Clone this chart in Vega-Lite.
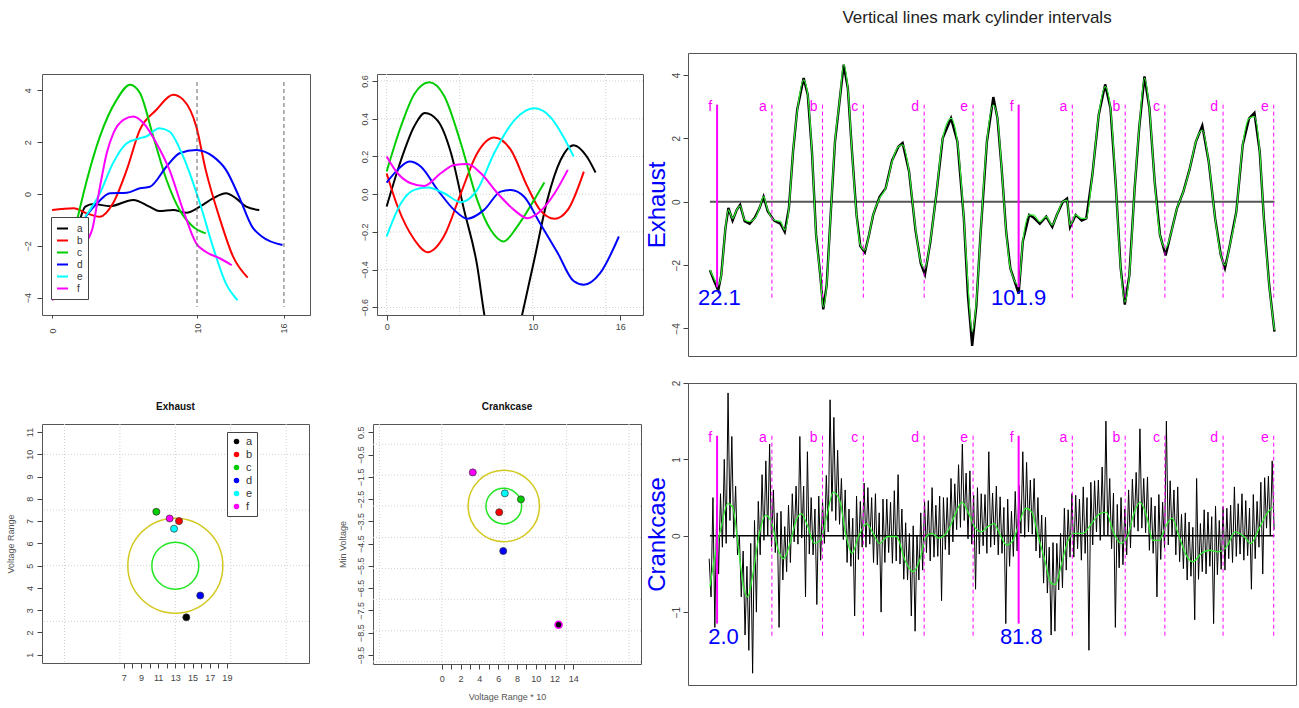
{
"$schema": "https://vega.github.io/schema/vega-lite/v6.json",
"background": "white",
"padding": {"left": 5, "top": 8, "right": 2, "bottom": 2},
"config": {
  "font": "Liberation Sans",
  "view": {"stroke": "#555", "strokeWidth": 1},
  "axis": {"domain": false, "grid": false, "labelColor": "#444", "tickColor": "#444", "labelFontSize": 9, "tickSize": 5, "labelPadding": 2, "titleColor": "#444", "titleFontWeight": "normal", "labelFont": "Liberation Sans", "titleFont": "Liberation Sans", "labelOverlap": false, "labelSeparation": 0},
  "title": {"font": "Liberation Sans"},
  "legend": {"labelFont": "Liberation Sans"}
},
"datasets": {
  "c1": [
    {"k":"a","x":1.95,"y":-0.94},{"k":"a","x":2.29,"y":-0.49},{"k":"a","x":2.86,"y":-0.39},{"k":"a","x":4.0,"y":-0.47},{"k":"a","x":5.6,"y":-0.23},{"k":"a","x":6.75,"y":-0.5},{"k":"a","x":7.4,"y":-0.66},{"k":"a","x":8.35,"y":-0.62},{"k":"a","x":9.27,"y":-0.72},{"k":"a","x":10.2,"y":-0.49},{"k":"a","x":11.1,"y":-0.17},{"k":"a","x":12.0,"y":0.03},{"k":"a","x":12.7,"y":-0.17},{"k":"a","x":13.4,"y":-0.49},{"k":"a","x":14.3,"y":-0.62},
    {"k":"b","x":0,"y":-0.62},{"k":"b","x":1.49,"y":-0.55},{"k":"b","x":2.4,"y":-0.75},{"k":"b","x":3.3,"y":-0.88},{"k":"b","x":4.2,"y":-0.36},{"k":"b","x":5.15,"y":0.93},{"k":"b","x":6.06,"y":2.48},{"k":"b","x":7.2,"y":3.25},{"k":"b","x":8.35,"y":3.83},{"k":"b","x":9.04,"y":3.64},{"k":"b","x":9.95,"y":2.6},{"k":"b","x":10.6,"y":0.93},{"k":"b","x":11.6,"y":-1.0},{"k":"b","x":12.5,"y":-2.43},{"k":"b","x":13.5,"y":-3.23},
    {"k":"c","x":1.6,"y":-1.3},{"k":"c","x":2.4,"y":0.54},{"k":"c","x":3.3,"y":2.22},{"k":"c","x":4.46,"y":3.64},{"k":"c","x":5.38,"y":4.22},{"k":"c","x":6.06,"y":3.9},{"k":"c","x":6.98,"y":2.22},{"k":"c","x":7.9,"y":0.54},{"k":"c","x":8.8,"y":-0.62},{"k":"c","x":9.73,"y":-1.26},{"k":"c","x":10.6,"y":-1.52},
    {"k":"d","x":2.29,"y":-0.88},{"k":"d","x":3.1,"y":-0.36},{"k":"d","x":4.0,"y":0.03},{"k":"d","x":5.15,"y":0.05},{"k":"d","x":6.06,"y":0.22},{"k":"d","x":6.75,"y":0.28},{"k":"d","x":7.9,"y":1.06},{"k":"d","x":8.8,"y":1.57},{"k":"d","x":9.95,"y":1.7},{"k":"d","x":11.1,"y":1.45},{"k":"d","x":12.0,"y":0.93},{"k":"d","x":12.9,"y":-0.1},{"k":"d","x":13.8,"y":-1.26},{"k":"d","x":14.5,"y":-1.65},{"k":"d","x":15.9,"y":-1.97},
    {"k":"e","x":2.29,"y":-0.88},{"k":"e","x":3.3,"y":0.03},{"k":"e","x":4.2,"y":1.19},{"k":"e","x":5.15,"y":1.96},{"k":"e","x":6.06,"y":2.15},{"k":"e","x":6.5,"y":2.22},{"k":"e","x":7.4,"y":2.54},{"k":"e","x":8.1,"y":2.41},{"k":"e","x":9.04,"y":1.45},{"k":"e","x":10.2,"y":-0.36},{"k":"e","x":11.1,"y":-2.04},{"k":"e","x":12.0,"y":-3.46},{"k":"e","x":12.8,"y":-4.1},
    {"k":"f","x":0,"y":-4.1},{"k":"f","x":0.57,"y":-3.7},{"k":"f","x":1.26,"y":-2.94},{"k":"f","x":2.0,"y":-2.1},{"k":"f","x":2.75,"y":-1.4},{"k":"f","x":3.3,"y":0.28},{"k":"f","x":3.78,"y":1.6},{"k":"f","x":4.23,"y":2.35},{"k":"f","x":4.92,"y":2.86},{"k":"f","x":5.6,"y":2.99},{"k":"f","x":6.3,"y":2.74},{"k":"f","x":7.2,"y":1.96},{"k":"f","x":8.1,"y":0.93},{"k":"f","x":9.04,"y":-0.62},{"k":"f","x":9.95,"y":-1.91},{"k":"f","x":10.6,"y":-2.23},{"k":"f","x":11.6,"y":-2.49},{"k":"f","x":12.4,"y":-2.75}
  ],
  "c2": [
    {"k":"a","x":0,"y":-0.065},{"k":"a","x":0.98,"y":0.18},{"k":"a","x":1.89,"y":0.36},{"k":"a","x":2.62,"y":0.43},{"k":"a","x":3.49,"y":0.39},{"k":"a","x":4.4,"y":0.22},{"k":"a","x":5.3,"y":-0.083},{"k":"a","x":6.2,"y":-0.38},{"k":"a","x":6.67,"y":-0.63},{"k":"a","x":7.3,"y":-0.88},{"k":"a","x":8.0,"y":-0.95},{"k":"a","x":8.6,"y":-0.88},{"k":"a","x":9.3,"y":-0.63},{"k":"a","x":10.1,"y":-0.35},{"k":"a","x":11.0,"y":-0.03},{"k":"a","x":11.9,"y":0.18},{"k":"a","x":12.8,"y":0.26},{"k":"a","x":13.7,"y":0.2},{"k":"a","x":14.3,"y":0.115},
    {"k":"b","x":0,"y":0.11},{"k":"b","x":0.75,"y":-0.065},{"k":"b","x":1.89,"y":-0.24},{"k":"b","x":2.8,"y":-0.307},{"k":"b","x":3.94,"y":-0.22},{"k":"b","x":5.08,"y":0.005},{"k":"b","x":6.2,"y":0.217},{"k":"b","x":7.36,"y":0.3},{"k":"b","x":8.5,"y":0.235},{"k":"b","x":9.64,"y":0.04},{"k":"b","x":10.5,"y":-0.083},{"k":"b","x":11.5,"y":-0.13},{"k":"b","x":12.4,"y":-0.083},{"k":"b","x":13.5,"y":0.12},
    {"k":"c","x":0,"y":0.12},{"k":"c","x":0.98,"y":0.36},{"k":"c","x":1.89,"y":0.53},{"k":"c","x":2.92,"y":0.593},{"k":"c","x":3.94,"y":0.52},{"k":"c","x":5.08,"y":0.27},{"k":"c","x":6.2,"y":-0.03},{"k":"c","x":7.13,"y":-0.19},{"k":"c","x":8.0,"y":-0.25},{"k":"c","x":8.95,"y":-0.17},{"k":"c","x":10.1,"y":-0.03},{"k":"c","x":10.8,"y":0.062},
    {"k":"d","x":0,"y":0.062},{"k":"d","x":0.75,"y":0.129},{"k":"d","x":1.55,"y":0.173},{"k":"d","x":2.35,"y":0.146},{"k":"d","x":3.49,"y":0.023},{"k":"d","x":4.62,"y":-0.083},{"k":"d","x":5.53,"y":-0.13},{"k":"d","x":6.67,"y":-0.083},{"k":"d","x":7.8,"y":0.014},{"k":"d","x":8.5,"y":0.023},{"k":"d","x":9.4,"y":-0.012},{"k":"d","x":10.5,"y":-0.154},{"k":"d","x":11.7,"y":-0.31},{"k":"d","x":12.8,"y":-0.46},{"k":"d","x":13.5,"y":-0.48},{"k":"d","x":14.6,"y":-0.42},{"k":"d","x":15.9,"y":-0.224},
    {"k":"e","x":0,"y":-0.224},{"k":"e","x":0.98,"y":-0.048},{"k":"e","x":1.89,"y":0.023},{"k":"e","x":2.8,"y":0.035},{"k":"e","x":3.94,"y":0.005},{"k":"e","x":5.08,"y":-0.042},{"k":"e","x":6.2,"y":0.023},{"k":"e","x":7.36,"y":0.217},{"k":"e","x":8.72,"y":0.39},{"k":"e","x":10.1,"y":0.455},{"k":"e","x":11.2,"y":0.41},{"k":"e","x":12.1,"y":0.305},{"k":"e","x":12.8,"y":0.2},
    {"k":"f","x":0,"y":0.2},{"k":"f","x":0.75,"y":0.111},{"k":"f","x":1.66,"y":0.058},{"k":"f","x":2.57,"y":0.044},{"k":"f","x":3.7,"y":0.111},{"k":"f","x":4.62,"y":0.155},{"k":"f","x":5.53,"y":0.16},{"k":"f","x":6.45,"y":0.111},{"k":"f","x":7.59,"y":0.005},{"k":"f","x":8.72,"y":-0.083},{"k":"f","x":9.64,"y":-0.127},{"k":"f","x":10.5,"y":-0.092},{"k":"f","x":11.5,"y":0.005},{"k":"f","x":12.4,"y":0.129}
  ],
  "ex": [
    {"u":20.2,"s":-2.16,"r":-2.16},{"u":21.3,"s":-2.42,"r":-2.5},{"u":22.4,"s":-2.63,"r":-2.8},{"u":23.2,"s":-2.32,"r":-2.32},{"u":24.3,"s":-0.84,"r":-0.84},{"u":25.1,"s":-0.26,"r":-0.2},{"u":26.2,"s":-0.53,"r":-0.6},{"u":27.3,"s":-0.26,"r":-0.26},{"u":28.2,"s":-0.13,"r":-0.1},{"u":29.4,"s":-0.58,"r":-0.62},{"u":30.7,"s":-0.63,"r":-0.7},{"u":32.1,"s":-0.53,"r":-0.5},{"u":33.3,"s":-0.21,"r":-0.21},{"u":34.4,"s":0.16,"r":0.16},{"u":35.5,"s":-0.26,"r":-0.3},{"u":37.2,"s":-0.58,"r":-0.6},{"u":38.9,"s":-0.63,"r":-0.7},{"u":40.0,"s":-0.89,"r":-0.95},{"u":41.1,"s":-0.21,"r":-0.21},{"u":42.2,"s":1.58,"r":1.58},{"u":43.3,"s":2.84,"r":2.9},{"u":45.0,"s":3.84,"r":3.9},{"u":46.1,"s":3.37,"r":3.37},{"u":47.2,"s":1.58,"r":1.58},{"u":48.3,"s":-1.05,"r":-1.05},{"u":49.4,"s":-2.32,"r":-2.32},{"u":50.2,"s":-3.32,"r":-3.4},{"u":51.1,"s":-2.63,"r":-2.63},{"u":52.2,"s":-0.32,"r":-0.32},{"u":53.3,"s":1.89,"r":1.89},{"u":54.5,"s":3.16,"r":3.16},{"u":55.6,"s":4.32,"r":4.32},{"u":56.7,"s":3.58,"r":3.58},{"u":57.8,"s":1.58,"r":1.58},{"u":59.0,"s":-0.42,"r":-0.42},{"u":60.0,"s":-1.37,"r":-1.4},{"u":61.2,"s":-1.53,"r":-1.6},{"u":62.3,"s":-1.05,"r":-1.05},{"u":63.4,"s":-0.42,"r":-0.42},{"u":65.1,"s":0.105,"r":0.15},{"u":66.7,"s":0.42,"r":0.42},{"u":68.4,"s":1.26,"r":1.3},{"u":70.1,"s":1.74,"r":1.74},{"u":71.2,"s":1.79,"r":1.85},{"u":72.9,"s":0.95,"r":0.95},{"u":74.6,"s":-0.84,"r":-0.9},{"u":76.0,"s":-1.89,"r":-1.95},{"u":77.1,"s":-2.1,"r":-2.3},{"u":78.5,"s":-1.26,"r":-1.3},{"u":80.1,"s":0.21,"r":0.21},{"u":81.8,"s":2.0,"r":2.0},{"u":84.0,"s":2.63,"r":2.63},{"u":85.7,"s":1.89,"r":1.89},{"u":87.4,"s":-0.53,"r":-0.53},{"u":88.5,"s":-2.63,"r":-3.0},{"u":89.6,"s":-4.1,"r":-4.55},{"u":90.7,"s":-3.16,"r":-3.3},{"u":91.8,"s":-1.05,"r":-1.05},{"u":93.5,"s":1.89,"r":1.89},{"u":95.2,"s":3.05,"r":3.3},{"u":96.3,"s":2.63,"r":2.63},{"u":97.4,"s":1.05,"r":1.05},{"u":98.6,"s":-0.95,"r":-0.95},{"u":99.7,"s":-2.1,"r":-2.1},{"u":101.9,"s":-2.63,"r":-2.9},{"u":103.0,"s":-1.26,"r":-1.26},{"u":104.7,"s":-0.42,"r":-0.42},{"u":105.8,"s":-0.42,"r":-0.5},{"u":107.5,"s":-0.63,"r":-0.7},{"u":109.2,"s":-0.47,"r":-0.47},{"u":110.8,"s":-0.74,"r":-0.8},{"u":112.0,"s":-0.42,"r":-0.42},{"u":113.6,"s":0.0,"r":0.0},{"u":114.7,"s":0.05,"r":0.1},{"u":115.5,"s":-0.74,"r":-0.8},{"u":117.0,"s":-0.42,"r":-0.42},{"u":118.6,"s":-0.53,"r":-0.6},{"u":119.8,"s":-0.53,"r":-0.53},{"u":121.4,"s":0.84,"r":0.84},{"u":123.1,"s":2.74,"r":2.74},{"u":124.8,"s":3.63,"r":3.7},{"u":126.2,"s":2.95,"r":2.95},{"u":127.6,"s":0.53,"r":0.53},{"u":128.9,"s":-2.1,"r":-2.1},{"u":130.0,"s":-3.16,"r":-3.25},{"u":131.2,"s":-2.32,"r":-2.32},{"u":132.6,"s":0.42,"r":0.42},{"u":133.8,"s":2.32,"r":2.32},{"u":135.2,"s":3.89,"r":3.95},{"u":136.5,"s":2.95,"r":2.95},{"u":137.9,"s":0.63,"r":0.63},{"u":139.3,"s":-1.05,"r":-1.05},{"u":140.8,"s":-1.47,"r":-1.7},{"u":142.1,"s":-1.05,"r":-1.05},{"u":143.8,"s":-0.21,"r":-0.21},{"u":145.5,"s":0.32,"r":0.32},{"u":147.2,"s":1.05,"r":1.05},{"u":148.8,"s":1.89,"r":1.89},{"u":150.5,"s":2.26,"r":2.4},{"u":152.2,"s":1.26,"r":1.26},{"u":153.9,"s":-0.53,"r":-0.53},{"u":155.4,"s":-1.68,"r":-1.68},{"u":156.5,"s":-2.0,"r":-2.1},{"u":157.8,"s":-1.37,"r":-1.37},{"u":159.5,"s":-0.32,"r":-0.32},{"u":161.2,"s":1.79,"r":1.79},{"u":162.9,"s":2.63,"r":2.63},{"u":164.3,"s":2.68,"r":2.8},{"u":165.7,"s":1.58,"r":1.58},{"u":166.8,"s":-0.53,"r":-0.53},{"u":168.2,"s":-2.63,"r":-2.63},{"u":169.6,"s":-4.05,"r":-4.1}
  ],
  "ckS": [
    {"u":20.2,"s":-0.67},{"u":21.5,"s":-0.27},{"u":23.2,"s":0.12},{"u":24.9,"s":0.42},{"u":26.2,"s":0.38},{"u":27.7,"s":-0.14},{"u":29.1,"s":-0.67},{"u":30.2,"s":-0.8},{"u":31.6,"s":-0.49},{"u":33.3,"s":0.03},{"u":34.9,"s":0.27},{"u":36.6,"s":0.16},{"u":38.3,"s":-0.19},{"u":39.7,"s":-0.3},{"u":41.4,"s":-0.1},{"u":43.0,"s":0.2},{"u":44.4,"s":0.29},{"u":46.1,"s":0.12},{"u":47.8,"s":-0.1},{"u":49.4,"s":-0.06},{"u":51.1,"s":0.25},{"u":52.8,"s":0.57},{"u":54.5,"s":0.47},{"u":56.1,"s":0.03},{"u":57.8,"s":-0.23},{"u":59.5,"s":-0.01},{"u":61.7,"s":0.16},{"u":63.4,"s":0.03},{"u":65.1,"s":-0.1},{"u":67.3,"s":-0.01},{"u":69.6,"s":-0.01},{"u":71.8,"s":-0.32},{"u":74.0,"s":-0.47},{"u":75.7,"s":-0.32},{"u":77.4,"s":-0.01},{"u":79.0,"s":0.03},{"u":80.7,"s":-0.03},{"u":83.0,"s":0.05},{"u":85.2,"s":0.29},{"u":86.9,"s":0.44},{"u":88.5,"s":0.31},{"u":90.2,"s":0.12},{"u":92.0,"s":0.05},{"u":93.7,"s":0.12},{"u":95.4,"s":0.16},{"u":97.0,"s":0.01},{"u":98.7,"s":-0.12},{"u":100.4,"s":-0.06},{"u":102.0,"s":0.16},{"u":103.8,"s":0.36},{"u":105.4,"s":0.31},{"u":107.1,"s":-0.01},{"u":108.8,"s":-0.32},{"u":110.5,"s":-0.62},{"u":111.6,"s":-0.64},{"u":113.3,"s":-0.36},{"u":115.0,"s":-0.06},{"u":116.7,"s":0.03},{"u":118.9,"s":0.03},{"u":121.2,"s":0.16},{"u":123.4,"s":0.29},{"u":125.1,"s":0.31},{"u":126.8,"s":0.07},{"u":129.0,"s":-0.1},{"u":130.7,"s":-0.01},{"u":132.4,"s":0.29},{"u":134.0,"s":0.44},{"u":135.8,"s":0.25},{"u":137.4,"s":-0.06},{"u":139.1,"s":-0.06},{"u":140.8,"s":0.12},{"u":142.5,"s":0.23},{"u":144.1,"s":0.03},{"u":146.4,"s":-0.27},{"u":148.0,"s":-0.34},{"u":150.3,"s":-0.23},{"u":152.5,"s":-0.19},{"u":154.7,"s":-0.21},{"u":157.0,"s":-0.14},{"u":159.2,"s":0.05},{"u":161.5,"s":-0.01},{"u":163.4,"s":-0.1},{"u":165.3,"s":0.07},{"u":167.6,"s":0.29},{"u":169.3,"s":0.38}
  ],
  "ckR": [
    {"u":20.0,"v":-0.3},{"u":20.5,"v":-0.8},{"u":21.0,"v":0.5},{"u":21.5,"v":-1.2},{"u":22.0,"v":0.4},{"u":22.5,"v":-0.5},{"u":23.0,"v":0.55},{"u":23.5,"v":-0.15},{"u":24.0,"v":1.0},{"u":24.5,"v":-0.1},
    {"u":25.0,"v":1.87},{"u":25.5,"v":0.2},{"u":26.0,"v":1.3},{"u":26.5,"v":-0.03},{"u":27.0,"v":0.65},{"u":27.5,"v":-0.25},{"u":28.0,"v":0.0},{"u":28.5,"v":-0.8},{"u":29.0,"v":-0.2},{"u":29.5,"v":-1.3},
    {"u":30.0,"v":-0.4},{"u":30.5,"v":-1.5},{"u":31.0,"v":-0.1},{"u":31.5,"v":-1.8},{"u":32.0,"v":0.2},{"u":32.5,"v":-1.0},{"u":33.0,"v":0.45},{"u":33.5,"v":-0.25},{"u":34.0,"v":0.8},{"u":34.5,"v":-0.06},
    {"u":35.0,"v":0.98},{"u":35.5,"v":0.0},{"u":36.0,"v":1.2},{"u":36.5,"v":-0.14},{"u":37.0,"v":0.6},{"u":37.5,"v":-0.22},{"u":38.0,"v":0.3},{"u":38.5,"v":-1.2},{"u":39.0,"v":0.32},{"u":39.5,"v":-0.58},
    {"u":40.0,"v":0.12},{"u":40.5,"v":-0.47},{"u":41.0,"v":0.4},{"u":41.5,"v":-0.35},{"u":42.0,"v":0.55},{"u":42.5,"v":-0.08},{"u":43.0,"v":0.65},{"u":43.5,"v":-0.11},{"u":44.0,"v":1.3},{"u":44.5,"v":-0.03},
    {"u":45.0,"v":0.65},{"u":45.5,"v":-0.8},{"u":46.0,"v":1.1},{"u":46.5,"v":-0.24},{"u":47.0,"v":0.5},{"u":47.5,"v":-0.25},{"u":48.0,"v":0.35},{"u":48.5,"v":-0.9},{"u":49.0,"v":0.52},{"u":49.5,"v":-0.32},
    {"u":50.0,"v":0.45},{"u":50.5,"v":-0.1},{"u":51.0,"v":0.79},{"u":51.5,"v":0.05},{"u":52.0,"v":1.78},{"u":52.5,"v":0.32},{"u":53.0,"v":1.55},{"u":53.5,"v":0.2},{"u":54.0,"v":1.12},{"u":54.5,"v":0.15},
    {"u":55.0,"v":0.75},{"u":55.5,"v":-0.05},{"u":56.0,"v":0.6},{"u":56.5,"v":-0.35},{"u":57.0,"v":0.35},{"u":57.5,"v":-0.4},{"u":58.0,"v":0.23},{"u":58.5,"v":-1.05},{"u":59.0,"v":0.52},{"u":59.5,"v":-0.31},
    {"u":60.0,"v":0.45},{"u":60.5,"v":-0.15},{"u":61.0,"v":0.69},{"u":61.5,"v":-0.15},{"u":62.0,"v":0.63},{"u":62.5,"v":-0.11},{"u":63.0,"v":0.5},{"u":63.5,"v":-0.35},{"u":64.0,"v":0.55},{"u":64.5,"v":-0.38},
    {"u":65.0,"v":0.3},{"u":65.5,"v":-1.0},{"u":66.0,"v":0.48},{"u":66.5,"v":-0.35},{"u":67.0,"v":0.48},{"u":67.5,"v":-0.22},{"u":68.0,"v":0.44},{"u":68.5,"v":-0.36},{"u":69.0,"v":0.59},{"u":69.5,"v":-0.33},
    {"u":70.0,"v":0.8},{"u":70.5,"v":-0.37},{"u":71.0,"v":0.35},{"u":71.5,"v":-0.57},{"u":72.0,"v":0.17},{"u":72.5,"v":-0.58},{"u":73.0,"v":0.03},{"u":73.5,"v":-1.05},{"u":74.0,"v":0.13},{"u":74.5,"v":-1.25},
    {"u":75.0,"v":0.0},{"u":75.5,"v":-0.58},{"u":76.0,"v":0.3},{"u":76.5,"v":-0.45},{"u":77.0,"v":0.45},{"u":77.5,"v":-0.22},{"u":78.0,"v":0.46},{"u":78.5,"v":-0.33},{"u":79.0,"v":0.63},{"u":79.5,"v":-0.28},
    {"u":80.0,"v":0.4},{"u":80.5,"v":-0.27},{"u":81.0,"v":0.52},{"u":81.5,"v":-0.85},{"u":82.0,"v":0.5},{"u":82.5,"v":-0.18},{"u":83.0,"v":0.5},{"u":83.5,"v":-0.25},{"u":84.0,"v":0.75},{"u":84.5,"v":-0.08},
    {"u":85.0,"v":0.68},{"u":85.5,"v":0.08},{"u":86.0,"v":0.93},{"u":86.5,"v":0.11},{"u":87.0,"v":1.2},{"u":87.5,"v":0.2},{"u":88.0,"v":0.82},{"u":88.5,"v":-0.04},{"u":89.0,"v":0.85},{"u":89.5,"v":-0.11},
    {"u":90.0,"v":0.53},{"u":90.5,"v":-0.7},{"u":91.0,"v":0.63},{"u":91.5,"v":-0.24},{"u":92.0,"v":0.55},{"u":92.5,"v":-0.13},{"u":93.0,"v":0.54},{"u":93.5,"v":-0.23},{"u":94.0,"v":1.1},{"u":94.5,"v":-0.15},
    {"u":95.0,"v":0.56},{"u":95.5,"v":-0.12},{"u":96.0,"v":0.65},{"u":96.5,"v":-0.25},{"u":97.0,"v":0.51},{"u":97.5,"v":-0.23},{"u":98.0,"v":0.37},{"u":98.5,"v":-1.15},{"u":99.0,"v":0.48},{"u":99.5,"v":-0.4},
    {"u":100.0,"v":0.32},{"u":100.5,"v":-0.27},{"u":101.0,"v":0.58},{"u":101.5,"v":-0.2},{"u":102.0,"v":0.66},{"u":102.5,"v":0.03},{"u":103.0,"v":1.1},{"u":103.5,"v":-0.02},{"u":104.0,"v":0.96},{"u":104.5,"v":0.05},
    {"u":105.0,"v":0.73},{"u":105.5,"v":0.02},{"u":106.0,"v":0.75},{"u":106.5,"v":-0.2},{"u":107.0,"v":0.5},{"u":107.5,"v":-0.29},{"u":108.0,"v":0.27},{"u":108.5,"v":-0.62},{"u":109.0,"v":0.24},{"u":109.5,"v":-0.75},
    {"u":110.0,"v":-0.15},{"u":110.5,"v":-1.3},{"u":111.0,"v":-0.09},{"u":111.5,"v":-1.25},{"u":112.0,"v":-0.1},{"u":112.5,"v":-0.71},{"u":113.0,"v":0.03},{"u":113.5,"v":-0.68},{"u":114.0,"v":0.36},{"u":114.5,"v":-0.45},
    {"u":115.0,"v":0.34},{"u":115.5,"v":-0.28},{"u":116.0,"v":0.55},{"u":116.5,"v":-0.28},{"u":117.0,"v":0.53},{"u":117.5,"v":-0.17},{"u":118.0,"v":0.48},{"u":118.5,"v":-0.32},{"u":119.0,"v":0.64},{"u":119.5,"v":-0.23},
    {"u":120.0,"v":0.5},{"u":120.5,"v":-1.5},{"u":121.0,"v":0.7},{"u":121.5,"v":-0.12},{"u":122.0,"v":0.72},{"u":122.5,"v":0.05},{"u":123.0,"v":0.73},{"u":123.5,"v":-0.06},{"u":124.0,"v":0.9},{"u":124.5,"v":0.0},
    {"u":125.0,"v":1.5},{"u":125.5,"v":0.01},{"u":126.0,"v":0.75},{"u":126.5,"v":-0.17},{"u":127.0,"v":0.56},{"u":127.5,"v":-1.2},{"u":128.0,"v":0.41},{"u":128.5,"v":-0.42},{"u":129.0,"v":0.5},{"u":129.5,"v":-0.38},
    {"u":130.0,"v":0.35},{"u":130.5,"v":-0.25},{"u":131.0,"v":0.6},{"u":131.5,"v":-0.16},{"u":132.0,"v":0.74},{"u":132.5,"v":0.11},{"u":133.0,"v":0.83},{"u":133.5,"v":0.06},{"u":134.0,"v":1.4},{"u":134.5,"v":0.1},
    {"u":135.0,"v":0.75},{"u":135.5,"v":0.04},{"u":136.0,"v":0.77},{"u":136.5,"v":-0.19},{"u":137.0,"v":0.5},{"u":137.5,"v":-0.23},{"u":138.0,"v":0.39},{"u":138.5,"v":-0.8},{"u":139.0,"v":0.54},{"u":139.5,"v":-0.31},
    {"u":140.0,"v":0.44},{"u":140.5,"v":-0.16},{"u":141.0,"v":1.5},{"u":141.5,"v":-0.12},{"u":142.0,"v":0.72},{"u":142.5,"v":-0.01},{"u":143.0,"v":0.6},{"u":143.5,"v":-0.25},{"u":144.0,"v":0.64},{"u":144.5,"v":-0.34},
    {"u":145.0,"v":0.28},{"u":145.5,"v":-0.43},{"u":146.0,"v":0.3},{"u":146.5,"v":-0.58},{"u":147.0,"v":0.18},{"u":147.5,"v":-0.53},{"u":148.0,"v":0.11},{"u":148.5,"v":-1.1},{"u":149.0,"v":0.75},{"u":149.5,"v":-0.57},
    {"u":150.0,"v":0.16},{"u":150.5,"v":-0.47},{"u":151.0,"v":0.34},{"u":151.5,"v":-0.5},{"u":152.0,"v":0.31},{"u":152.5,"v":-0.4},{"u":153.0,"v":0.25},{"u":153.5,"v":-1.15},{"u":154.0,"v":0.39},{"u":154.5,"v":-0.51},
    {"u":155.0,"v":0.2},{"u":155.5,"v":-0.44},{"u":156.0,"v":0.38},{"u":156.5,"v":-0.45},{"u":157.0,"v":0.36},{"u":157.5,"v":-0.3},{"u":158.0,"v":0.4},{"u":158.5,"v":-0.35},{"u":159.0,"v":0.64},{"u":159.5,"v":-0.27},
    {"u":160.0,"v":0.42},{"u":160.5,"v":-0.24},{"u":161.0,"v":0.55},{"u":161.5,"v":-0.32},{"u":162.0,"v":0.46},{"u":162.5,"v":-0.26},{"u":163.0,"v":0.36},{"u":163.5,"v":-0.7},{"u":164.0,"v":0.54},{"u":164.5,"v":-0.3},
    {"u":165.0,"v":0.45},{"u":165.5,"v":-0.15},{"u":166.0,"v":0.7},{"u":166.5,"v":-0.5},{"u":167.0,"v":0.76},{"u":167.5,"v":0.1},{"u":168.0,"v":0.78},{"u":168.5,"v":0.0},{"u":169.0,"v":0.98},{"u":169.5,"v":0.08}
  ],
  "mk": [
    {"u":22.1,"lab":"f"},{"u":36.6,"lab":"a"},{"u":50.0,"lab":"b"},{"u":60.8,"lab":"c"},{"u":76.9,"lab":"d"},{"u":89.85,"lab":"e"},
    {"u":101.9,"lab":"f"},{"u":116.1,"lab":"a"},{"u":130.1,"lab":"b"},{"u":140.6,"lab":"c"},{"u":156.0,"lab":"d"},{"u":169.4,"lab":"e"}
  ],
  "exN": [{"u":22.7,"t":"22.1"},{"u":101.9,"t":"101.9"}],
  "ckN": [{"u":23.8,"t":"2.0"},{"u":102.6,"t":"81.8"}],
  "sc1": [{"k":"a","x":14.28,"y":2.68},{"k":"b","x":13.43,"y":7.0},{"k":"c","x":10.79,"y":7.42},{"k":"d","x":15.9,"y":3.66},{"k":"e","x":12.85,"y":6.66},{"k":"f","x":12.34,"y":7.12}],
  "sc2": [{"k":"a","x":12.43,"y":-8.14},{"k":"b","x":6.11,"y":-3.09},{"k":"c","x":8.42,"y":-2.51},{"k":"d","x":6.54,"y":-4.83},{"k":"e","x":6.71,"y":-2.24},{"k":"f","x":3.3,"y":-1.3}]
},
"spacing": 0,
"resolve": {"scale": {"color": "independent", "fill": "independent"}, "legend": {"color": "independent", "fill": "independent"}},
"hconcat": [
 {
  "spacing": 14,
  "resolve": {"scale": {"color": "independent", "fill": "independent"}, "legend": {"color": "independent", "fill": "independent"}},
  "vconcat": [
   {"width": 10, "height": 1, "view": {"stroke": null}, "data": {"values": [{"z": 0}]}, "mark": {"type": "text", "text": ""}, "encoding": {}},
   {
    "spacing": 67,
    "resolve": {"scale": {"color": "independent", "fill": "independent"}, "legend": {"color": "independent", "fill": "independent"}},
    "vconcat": [
     {
      "spacing": 48,
      "resolve": {"scale": {"color": "independent", "fill": "independent"}, "legend": {"color": "independent", "fill": "independent"}},
      "hconcat": [
       {
        "width": 268, "height": 241,
        "layer": [
         {"data": {"name": "c1"},
          "mark": {"type": "line", "strokeWidth": 2, "interpolate": "monotone"},
          "encoding": {
            "x": {"field": "x", "type": "quantitative", "title": null, "scale": {"domain": [-0.7, 17.8], "nice": false, "zero": false}, "axis": {"values": [0, 10, 16], "labelAngle": -90, "labelAlign": "left", "labelBaseline": "middle", "tickSize": 3, "labelPadding": 15, "labelOverlap": false, "title": null}},
            "y": {"field": "y", "type": "quantitative", "title": null, "scale": {"domain": [-4.67, 4.63], "nice": false, "zero": false}, "axis": {"values": [-4, -2, 0, 2, 4], "labelAngle": -90, "labelAlign": "center", "labelBaseline": "bottom", "labelPadding": 5, "labelOverlap": false, "title": null}},
            "color": {"field": "k", "type": "nominal", "scale": {"domain": ["a","b","c","d","e","f"], "range": ["#000000","#FF0000","#00CD00","#0000FF","#00FFFF","#FF00FF"]},
              "legend": {"title": null, "orient": "none", "legendX": 9, "legendY": 143, "symbolType": "stroke", "symbolSize": 121, "symbolStrokeWidth": 2, "labelFontSize": 10, "labelColor": "#333", "rowPadding": 0, "padding": 5, "strokeColor": "#444", "fillColor": "white", "labelOffset": 8}}
          }},
         {"data": {"values": [{"x": 10}, {"x": 16}]},
          "mark": {"type": "rule", "strokeDash": [4, 3], "color": "#666", "strokeWidth": 1},
          "encoding": {"x": {"field": "x", "type": "quantitative", "title": null}, "y": {"datum": 4.32}, "y2": {"datum": -4.36}}}
        ]
       },
       {
        "width": 266, "height": 241,
        "layer": [
         {"data": {"values": [{"g": 0}, {"g": 5}, {"g": 10}, {"g": 15}]},
          "mark": {"type": "rule", "color": "#d0d0d0", "strokeDash": [1, 2]},
          "encoding": {"x": {"field": "g", "type": "quantitative", "title": null, "scale": {"domain": [-0.66, 17.55], "nice": false, "zero": false}, "axis": {"values": [0, 10, 16], "labelAngle": 0, "labelOverlap": false, "title": null}}}},
         {"data": {"values": [{"h": -0.6}, {"h": -0.4}, {"h": -0.2}, {"h": 0}, {"h": 0.2}, {"h": 0.4}, {"h": 0.6}]},
          "mark": {"type": "rule", "color": "#d0d0d0", "strokeDash": [1, 2]},
          "encoding": {"y": {"field": "h", "type": "quantitative", "title": null, "scale": {"domain": [-0.64, 0.637], "nice": false, "zero": false}, "axis": {"values": [-0.6, -0.4, -0.2, 0, 0.2, 0.4, 0.6], "format": ".1f", "labelAngle": -90, "labelAlign": "center", "labelBaseline": "bottom", "labelPadding": 3, "labelOverlap": false, "title": null}}}},
         {"data": {"name": "c2"},
          "mark": {"type": "line", "strokeWidth": 2, "interpolate": "monotone", "clip": true},
          "encoding": {
            "x": {"field": "x", "type": "quantitative", "title": null},
            "y": {"field": "y", "type": "quantitative", "title": null},
            "color": {"field": "k", "type": "nominal", "scale": {"domain": ["a","b","c","d","e","f"], "range": ["#000000","#FF0000","#00CD00","#0000FF","#00FFFF","#FF00FF"]}, "legend": null}
          }}
        ]
       }
      ]
     },
     {
      "spacing": 27,
      "resolve": {"scale": {"color": "independent", "fill": "independent"}, "legend": {"color": "independent", "fill": "independent"}},
      "hconcat": [
       {
        "width": 267, "height": 239,
        "title": {"text": "Exhaust", "fontSize": 10, "fontWeight": "bold", "offset": 12, "color": "#111"},
        "encoding": {
          "x": {"type": "quantitative", "title": null, "scale": {"domain": [-2.52, 28.56], "nice": false, "zero": false}, "axis": {"values": [7,8,9,10,11,12,13,14,15,16,17,18,19], "labelExpr": "datum.value % 2 === 1 ? datum.label : ''", "labelAngle": 0, "labelPadding": 5, "labelOverlap": false, "labelSeparation": 0}},
          "y": {"type": "quantitative", "title": "Voltage Range", "scale": {"domain": [0.63, 11.36], "nice": false, "zero": false}, "axis": {"values": [1,2,3,4,5,6,7,8,9,10,11], "labelAngle": -90, "labelAlign": "center", "labelBaseline": "bottom", "labelPadding": 3, "labelOverlap": false, "labelSeparation": 0, "titleFontSize": 9, "titlePadding": 10, "titleColor": "#555"}}
        },
        "layer": [
         {"data": {"values": [{"x": 0.1}, {"x": 6.55}, {"x": 13}, {"x": 19.45}, {"x": 25.9}]},
          "mark": {"type": "rule", "color": "#d0d0d0", "strokeDash": [1, 2]},
          "encoding": {"x": {"field": "x"}, "y": null}},
         {"data": {"values": [{"y": 2.5}, {"y": 5}, {"y": 7.5}, {"y": 10}]},
          "mark": {"type": "rule", "color": "#d0d0d0", "strokeDash": [1, 2]},
          "encoding": {"y": {"field": "y"}, "x": null}},
         {"data": {"values": [{"x": 13, "y": 5}]},
          "mark": {"type": "point", "shape": "circle", "size": 9025, "filled": false, "stroke": "#D2C81E", "strokeWidth": 1.5, "opacity": 1},
          "encoding": {"x": {"field": "x"}, "y": {"field": "y"}}},
         {"data": {"values": [{"x": 13, "y": 5}]},
          "mark": {"type": "point", "shape": "circle", "size": 2209, "filled": false, "stroke": "#22E622", "strokeWidth": 1.5, "opacity": 1},
          "encoding": {"x": {"field": "x"}, "y": {"field": "y"}}},
         {"data": {"name": "sc1"},
          "mark": {"type": "point", "shape": "circle", "filled": true, "size": 50, "stroke": "#333", "strokeWidth": 0.7, "opacity": 1},
          "encoding": {
            "x": {"field": "x"},
            "y": {"field": "y"},
            "fill": {"field": "k", "type": "nominal", "scale": {"domain": ["a","b","c","d","e","f"], "range": ["#000000","#FF0000","#00CD00","#0000FF","#00FFFF","#FF00FF"]},
              "legend": {"title": null, "orient": "none", "legendX": 185, "legendY": 8, "symbolType": "circle", "symbolSize": 30, "symbolStrokeWidth": 0, "labelFontSize": 11, "labelColor": "#333", "rowPadding": 1, "padding": 4, "strokeColor": "#444", "fillColor": "white", "labelOffset": 4}}
          }}
        ]
       },
       {
        "width": 268, "height": 240,
        "title": {"text": "Crankcase", "fontSize": 10, "fontWeight": "bold", "offset": 12, "color": "#111"},
        "encoding": {
          "x": {"type": "quantitative", "title": "Voltage Range * 10", "scale": {"domain": [-7.32, 21.2], "nice": false, "zero": false}, "axis": {"values": [0,1,2,3,4,5,6,7,8,9,10,11,12,13,14], "labelExpr": "datum.value % 2 === 0 ? datum.label : ''", "labelAngle": 0, "labelPadding": 5, "labelOverlap": false, "labelSeparation": 0, "titleFontSize": 9, "titlePadding": 9, "titleColor": "#555"}},
          "y": {"type": "quantitative", "title": "Min Voltage", "scale": {"domain": [-9.904, 0.874], "nice": false, "zero": false}, "axis": {"values": [0.5,-0.5,-1.5,-2.5,-3.5,-4.5,-5.5,-6.5,-7.5,-8.5,-9.5], "format": ".1f", "labelAngle": -90, "labelAlign": "center", "labelBaseline": "bottom", "labelPadding": 3, "labelOverlap": false, "labelSeparation": 0, "titleFontSize": 9, "titlePadding": 9, "titleColor": "#555"}}
        },
        "layer": [
         {"data": {"values": [{"x": -6.64}, {"x": 0}, {"x": 6.64}, {"x": 13.29}, {"x": 19.93}]},
          "mark": {"type": "rule", "color": "#d0d0d0", "strokeDash": [1, 2]},
          "encoding": {"x": {"field": "x"}, "y": null}},
         {"data": {"values": [{"y": -0.04}, {"y": -1.42}, {"y": -2.81}, {"y": -4.22}, {"y": -5.61}, {"y": -7.0}, {"y": -8.41}, {"y": -9.8}]},
          "mark": {"type": "rule", "color": "#d0d0d0", "strokeDash": [1, 2]},
          "encoding": {"y": {"field": "y"}, "x": null}},
         {"data": {"values": [{"x": 6.6, "y": -2.81}]},
          "mark": {"type": "point", "shape": "circle", "size": 5098, "filled": false, "stroke": "#D2C81E", "strokeWidth": 1.5, "opacity": 1},
          "encoding": {"x": {"field": "x"}, "y": {"field": "y"}}},
         {"data": {"values": [{"x": 6.6, "y": -2.81}]},
          "mark": {"type": "point", "shape": "circle", "size": 1274, "filled": false, "stroke": "#22E622", "strokeWidth": 1.5, "opacity": 1},
          "encoding": {"x": {"field": "x"}, "y": {"field": "y"}}},
         {"data": {"name": "sc2"},
          "mark": {"type": "point", "shape": "circle", "filled": true, "size": 50, "opacity": 1},
          "encoding": {
            "x": {"field": "x"},
            "y": {"field": "y"},
            "fill": {"field": "k", "type": "nominal", "scale": {"domain": ["a","b","c","d","e","f"], "range": ["#000000","#FF0000","#00CD00","#0000FF","#00FFFF","#FF00FF"]}, "legend": null},
            "stroke": {"condition": {"test": "datum.k === 'a'", "value": "#FF00FF"}, "value": "#333"},
            "strokeWidth": {"condition": {"test": "datum.k === 'a'", "value": 1.5}, "value": 0.7}
          }}
        ]
       }
      ]
     }
    ]
   }
  ]
 },
 {
  "spacing": 22,
  "resolve": {"scale": {"color": "independent", "fill": "independent"}, "legend": {"color": "independent", "fill": "independent"}},
  "vconcat": [
   {
    "width": 608, "height": 303,
    "title": {"text": "Vertical lines mark cylinder intervals", "fontSize": 17, "fontWeight": "normal", "offset": 26, "color": "#222", "anchor": "middle", "dx": -15},
    "layer": [
     {"data": {"values": [{"a": 20.2, "b": 169.6}]},
      "mark": {"type": "rule", "color": "#555", "strokeWidth": 2},
      "encoding": {"x": {"field": "a", "type": "quantitative", "title": null, "axis": null}, "x2": {"field": "b"}, "y": {"datum": 0}}},
     {"data": {"name": "ex"},
      "mark": {"type": "line", "color": "#000", "strokeWidth": 2.4},
      "encoding": {
        "x": {"field": "u", "type": "quantitative", "title": null, "axis": null, "scale": {"domain": [14.4, 175.3], "nice": false, "zero": false}},
        "y": {"field": "r", "type": "quantitative", "title": "Exhaust", "scale": {"domain": [-4.87, 4.69], "nice": false, "zero": false}, "axis": {"values": [-4, -2, 0, 2, 4], "labelAngle": -90, "labelAlign": "center", "labelBaseline": "bottom", "labelFontSize": 10, "tickSize": 5, "labelPadding": 2, "labelOverlap": false, "titleColor": "#0000FF", "titleFontSize": 24, "titlePadding": 2}}
      }},
     {"data": {"name": "ex"},
      "mark": {"type": "line", "color": "#33EE33", "strokeWidth": 1.2, "interpolate": "monotone"},
      "encoding": {"x": {"field": "u", "type": "quantitative", "title": null, "axis": null}, "y": {"field": "s", "type": "quantitative", "title": "Exhaust"}}},
     {"data": {"name": "mk"}, "transform": [{"filter": "datum.lab !== 'f'"}],
      "mark": {"type": "rule", "color": "#FF00FF", "strokeDash": [4, 3], "strokeWidth": 1},
      "encoding": {"x": {"field": "u", "type": "quantitative", "title": null, "axis": null}, "y": {"datum": 3.06}, "y2": {"datum": -3.05}}},
     {"data": {"name": "mk"}, "transform": [{"filter": "datum.lab === 'f'"}],
      "mark": {"type": "rule", "color": "#FF00FF", "strokeWidth": 2},
      "encoding": {"x": {"field": "u", "type": "quantitative", "title": null, "axis": null}, "y": {"datum": 3.06}, "y2": {"datum": -2.7}}},
     {"data": {"name": "mk"},
      "mark": {"type": "text", "color": "#FF00FF", "fontSize": 14, "align": "right", "baseline": "middle", "dx": -5},
      "encoding": {"x": {"field": "u", "type": "quantitative", "title": null, "axis": null}, "y": {"datum": 3.0}, "text": {"field": "lab"}}},
     {"data": {"name": "exN"},
      "mark": {"type": "text", "color": "#0000FF", "fontSize": 22, "align": "center", "baseline": "middle"},
      "encoding": {"x": {"field": "u", "type": "quantitative", "title": null, "axis": null}, "y": {"datum": -3.05}, "text": {"field": "t"}}}
    ]
   },
   {
    "width": 608, "height": 302,
    "layer": [
     {"data": {"values": [{"a": 20.2, "b": 169.6}]},
      "mark": {"type": "rule", "color": "#000", "strokeWidth": 1.5},
      "encoding": {"x": {"field": "a", "type": "quantitative", "title": null, "axis": null}, "x2": {"field": "b"}, "y": {"datum": 0}}},
     {"data": {"name": "ckR"},
      "mark": {"type": "line", "color": "#000", "strokeWidth": 1},
      "encoding": {
        "x": {"field": "u", "type": "quantitative", "title": null, "axis": null, "scale": {"domain": [14.4, 175.3], "nice": false, "zero": false}},
        "y": {"field": "v", "type": "quantitative", "title": "Crankcase", "scale": {"domain": [-1.954, 2.0], "nice": false, "zero": false}, "axis": {"values": [-1, 0, 1, 2], "format": "d", "labelAngle": -90, "labelAlign": "center", "labelBaseline": "bottom", "labelFontSize": 10, "tickSize": 5, "labelPadding": 2, "labelOverlap": false, "titleColor": "#0000FF", "titleFontSize": 24, "titlePadding": 2}}
      }},
     {"data": {"name": "ckS"},
      "mark": {"type": "line", "color": "#33EE33", "strokeWidth": 1.3, "interpolate": "monotone"},
      "encoding": {"x": {"field": "u", "type": "quantitative", "title": null, "axis": null}, "y": {"field": "s", "type": "quantitative", "title": "Crankcase"}}},
     {"data": {"name": "mk"}, "transform": [{"filter": "datum.lab !== 'f'"}],
      "mark": {"type": "rule", "color": "#FF00FF", "strokeDash": [4, 3], "strokeWidth": 1},
      "encoding": {"x": {"field": "u", "type": "quantitative", "title": null, "axis": null}, "y": {"datum": 1.31}, "y2": {"datum": -1.32}}},
     {"data": {"name": "mk"}, "transform": [{"filter": "datum.lab === 'f'"}],
      "mark": {"type": "rule", "color": "#FF00FF", "strokeWidth": 2},
      "encoding": {"x": {"field": "u", "type": "quantitative", "title": null, "axis": null}, "y": {"datum": 1.31}, "y2": {"datum": -1.15}}},
     {"data": {"name": "mk"},
      "mark": {"type": "text", "color": "#FF00FF", "fontSize": 14, "align": "right", "baseline": "middle", "dx": -5},
      "encoding": {"x": {"field": "u", "type": "quantitative", "title": null, "axis": null}, "y": {"datum": 1.28}, "text": {"field": "lab"}}},
     {"data": {"name": "ckN"},
      "mark": {"type": "text", "color": "#0000FF", "fontSize": 22, "align": "center", "baseline": "middle"},
      "encoding": {"x": {"field": "u", "type": "quantitative", "title": null, "axis": null}, "y": {"datum": -1.32}, "text": {"field": "t"}}}
    ]
   }
  ]
 }
]
}
